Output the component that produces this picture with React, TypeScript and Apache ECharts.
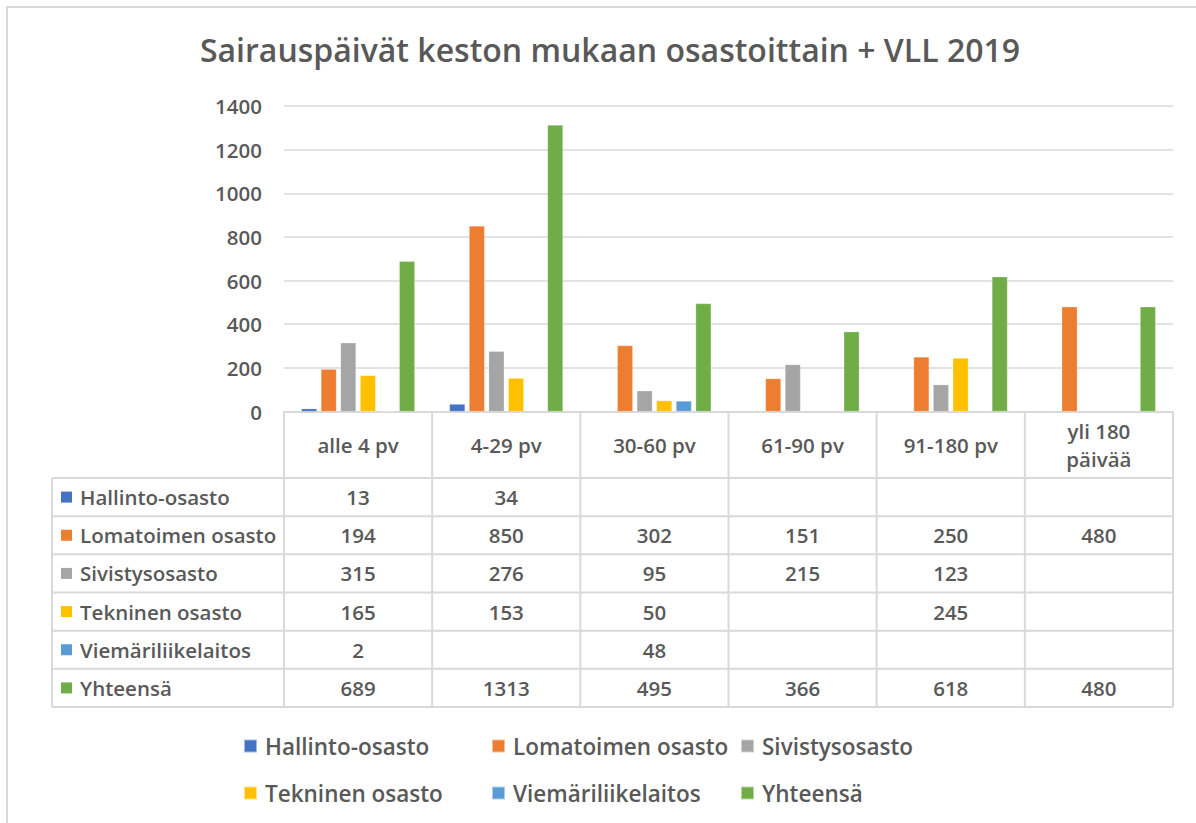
import React, { useEffect, useRef } from "react";
import * as echarts from "echarts";

const title = "Sairauspäivät keston mukaan osastoittain + VLL 2019";
const categories = ["alle 4 pv", "4-29 pv", "30-60 pv", "61-90 pv", "91-180 pv", "yli 180\npäivää"];
const seriesNames = [
  "Hallinto-osasto",
  "Lomatoimen osasto",
  "Sivistysosasto",
  "Tekninen osasto",
  "Viemäriliikelaitos",
  "Yhteensä",
];
const hallinto = [13, 34, null, null, null, null];
const lomatoimen = [194, 850, 302, 151, 250, 480];
const sivistys = [315, 276, 95, 215, 123, null];
const tekninen = [165, 153, 50, null, 245, null];
const viemari = [2, null, 48, null, null, null];
const yhteensa = [689, 1313, 495, 366, 618, 480];
const seriesValues = [hallinto, lomatoimen, sivistys, tekninen, viemari, yhteensa];
const colors = ["#4472C4", "#ED7D31", "#A5A5A5", "#FFC000", "#5B9BD5", "#70AD47"];
const yMin = 0;
const yMax = 1400;
const yInterval = 200;

const FONT = "Open Sans";
const WEIGHT = 600;
const TEXT = "#595959";
const LINE = "#D9D9D9";
const TABLE_FS = 20.5;

const GRID_LEFT = 284;
const GRID_TOP = 106;
const GRID_W = 889;
const GRID_H = 305.5;
const TABLE_LEFT = 52;
const HEADER_BOTTOM = 478;
const ROW_H = 38.17;

function buildTable(): any[] {
  const els: any[] = [];
  const colW = GRID_W / categories.length;
  const axisY = GRID_TOP + GRID_H;
  const nRows = seriesNames.length;
  const tableBottom = HEADER_BOTTOM + ROW_H * nRows;
  const right = GRID_LEFT + GRID_W;
  for (let i = 0; i <= categories.length; i++) {
    const x = GRID_LEFT + i * colW;
    els.push({
      type: "line",
      shape: { x1: x, y1: axisY, x2: x, y2: tableBottom },
      style: { stroke: LINE, lineWidth: 2 },
    });
  }
  els.push({
    type: "line",
    shape: { x1: TABLE_LEFT, y1: HEADER_BOTTOM, x2: TABLE_LEFT, y2: tableBottom },
    style: { stroke: LINE, lineWidth: 2 },
  });
  for (let r = 0; r <= nRows; r++) {
    const y = HEADER_BOTTOM + r * ROW_H;
    els.push({
      type: "line",
      shape: { x1: TABLE_LEFT, y1: y, x2: right, y2: y },
      style: { stroke: LINE, lineWidth: 2 },
    });
  }
  categories.forEach((c, i) => {
    els.push({
      type: "text",
      style: {
        text: c,
        x: GRID_LEFT + (i + 0.5) * colW,
        y: (axisY + HEADER_BOTTOM) / 2,
        align: "center",
        verticalAlign: "middle",
        fontFamily: FONT,
        fontWeight: WEIGHT,
        fontSize: TABLE_FS,
        lineHeight: 28,
        fill: TEXT,
      },
    });
  });
  seriesNames.forEach((name, r) => {
    const cy = HEADER_BOTTOM + (r + 0.5) * ROW_H;
    els.push({
      type: "rect",
      shape: { x: 61, y: cy - 5.5, width: 11, height: 11 },
      style: { fill: colors[r] },
    });
    els.push({
      type: "text",
      style: {
        text: name,
        x: 80,
        y: cy,
        align: "left",
        verticalAlign: "middle",
        fontFamily: FONT,
        fontWeight: WEIGHT,
        fontSize: TABLE_FS,
        fill: TEXT,
      },
    });
    seriesValues[r].forEach((v, i) => {
      if (v === null || v === undefined) return;
      els.push({
        type: "text",
        style: {
          text: String(v),
          x: GRID_LEFT + (i + 0.5) * colW,
          y: cy,
          align: "center",
          verticalAlign: "middle",
          fontFamily: FONT,
          fontWeight: WEIGHT,
          fontSize: TABLE_FS,
          fill: TEXT,
        },
      });
    });
  });
  els.push({
    type: "rect",
    shape: { x: 7, y: 7, width: 1200, height: 840 },
    style: { fill: "none", stroke: LINE, lineWidth: 2 },
  });
  return els;
}

const legendPos = [
  { left: 243, top: 734 },
  { left: 491, top: 734 },
  { left: 740, top: 734 },
  { left: 243, top: 781 },
  { left: 491, top: 781 },
  { left: 740, top: 781 },
];

export default function App() {
  const ref = useRef<HTMLDivElement>(null);
  useEffect(() => {
    document.body.style.margin = "0";
    if (!ref.current) return;
    const chart = echarts.init(ref.current, null, { renderer: "svg" });
    chart.setOption({
      animation: false,
      backgroundColor: "#ffffff",
      title: {
        text: title,
        left: 605,
        top: 28,
        textAlign: "center",
        textStyle: { fontFamily: FONT, fontWeight: WEIGHT, fontSize: 32, color: TEXT },
      },
      legend: seriesNames.map((n, i) => ({
        data: [n],
        left: legendPos[i].left,
        top: legendPos[i].top,
        icon: "rect",
        itemWidth: 13,
        itemHeight: 13,
        selectedMode: false,
        padding: 0,
        textStyle: {
          fontFamily: FONT,
          fontWeight: WEIGHT,
          fontSize: 22.5,
          lineHeight: 24,
          color: TEXT,
          padding: [0, 0, 0, 3],
        },
      })),
      grid: { left: GRID_LEFT, top: GRID_TOP, width: GRID_W, height: GRID_H, containLabel: false },
      xAxis: {
        type: "category",
        data: categories,
        axisLabel: { show: false },
        axisTick: { show: false },
        axisLine: { lineStyle: { color: LINE, width: 2 } },
      },
      yAxis: {
        type: "value",
        min: yMin,
        max: yMax,
        interval: yInterval,
        axisLine: { show: false },
        axisTick: { show: false },
        axisLabel: {
          margin: 22,
          fontFamily: FONT,
          fontWeight: WEIGHT,
          fontSize: 20.5,
          color: TEXT,
          formatter: (v: number) => String(v),
        },
        splitLine: { lineStyle: { color: LINE, width: 1.5 } },
      },
      series: seriesNames.map((n, i) => ({
        name: n,
        type: "bar",
        data: seriesValues[i],
        barGap: "26%",
        barCategoryGap: "23.4%",
        itemStyle: { color: colors[i], borderColor: "rgba(255,255,255,0.5)", borderWidth: 0.5 },
      })),
      graphic: buildTable(),
    });
    return () => chart.dispose();
  }, []);
  return <div ref={ref} style={{ width: 1196, height: 823 }} />;
}
